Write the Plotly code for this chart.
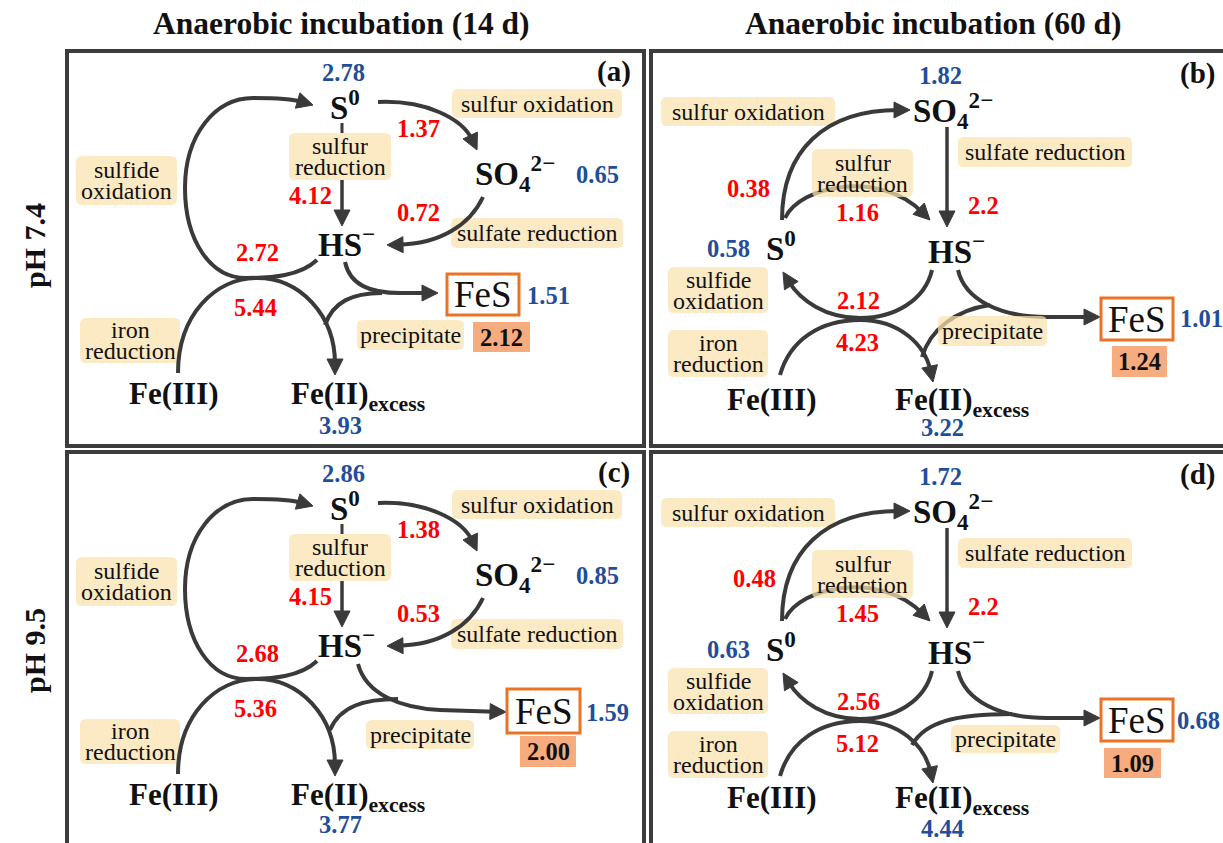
import copy
import plotly.graph_objects as go

W, H = 1223, 843

# ---------------------------------------------------------------- data
col_titles = ["Anaerobic incubation (14 d)", "Anaerobic incubation (60 d)"]
row_titles = ["pH 7.4", "pH 9.5"]
panel_tags = ["(a)", "(b)", "(c)", "(d)"]

# pool sizes (blue), panels a, b, c, d
s0_pool = ["2.78", "0.58", "2.86", "0.63"]
so4_pool = ["0.65", "1.82", "0.85", "1.72"]
fes_pool = ["1.51", "1.01", "1.59", "0.68"]
fe2_pool = ["3.93", "3.22", "3.77", "4.44"]
fes_total = ["2.12", "1.24", "2.00", "1.09"]

# transformation fluxes (red), panels a, b, c, d
sulfur_ox = ["1.37", "0.38", "1.38", "0.48"]
sulfur_red = ["4.12", "1.16", "4.15", "1.45"]
sulfate_red = ["0.72", "2.2", "0.53", "2.2"]
sulfide_ox = ["2.72", "2.12", "2.68", "2.56"]
iron_red = ["5.44", "4.23", "5.36", "5.12"]

# ---------------------------------------------------------------- style
SERIF = "Liberation Serif, Times New Roman, serif"
INK = "#3a3a3a"
RED = "#FF0000"
BLUE = "#1F4E9A"
LABEL_FILL = "rgba(251,226,175,0.72)"
ORANGE = "#EB7325"
SALMON = "#F6AC7F"
FRAME = "#3c3c3c"
TXT = "#111111"

LABEL_SIZE = 24
NUM_SIZE = 24.5

# ---------------------------------------------------------------- diagram layouts
# left column (14 d): S0 on top, SO4 to the right
LEFT = {
    "frame": (67, 51, 644, 446),
    "points": {
        "tag": (614, 71), "s0_pool": (343, 72), "so4_pool": (597, 174),
        "fes_pool": (548, 295), "fe2_pool": (340, 425),
        "sulfur_ox": (418, 128), "sulfur_red": (310, 195), "sulfate_red": (418, 212),
        "sulfide_ox": (257, 252), "iron_red": (255, 307),
        "S0": (345, 105), "SO4": (515, 173), "HS": (346, 242),
        "Fe3": (174, 393), "Fe2": (358, 396),
    },
    "rects": {"fes_box": (447, 274, 519, 315), "total_box": (473, 322, 530, 352)},
    "labels": {
        "lab_sox": ((452, 89, 622, 118), ["sulfur oxidation"], False),
        "lab_sred": ((289, 133, 391, 180), ["sulfur", "reduction"], False),
        "lab_hsox": ((76, 156, 177, 205), ["sulfide", "oxidation"], False),
        "lab_so4red": ((451, 218, 623, 248), ["sulfate reduction"], False),
        "lab_fered": ((80, 318, 180, 363), ["iron", "reduction"], False),
        "lab_prec": ((357, 320, 464, 350), ["precipitate"], False),
    },
    "curves": {
        "loop": ((317, 260), [("C", (300, 276), (272, 278), (246, 278)),
                              ("C", (210, 278), (185, 240), (185, 188)),
                              ("C", (185, 135), (215, 98), (253, 98)),
                              ("C", (276, 98), (296, 100), (313, 105))], True, 4),
        "iron": ((178, 373), [("C", (178, 315), (215, 278), (257, 278)),
                              ("C", (300, 278), (335, 315), (335, 375))], True, 4),
        "s_ox": ((378, 102), [("C", (425, 100), (462, 118), (477, 150))], True, 4),
        "so4_red": ((483, 197), [("C", (470, 225), (440, 244), (387, 245))], True, 4),
        "s_red": ((342, 180), [("L", (342, 226))], True, 3.5),
        "tick": ((342, 123), [("L", (342, 133))], False, 3),
        "to_fes": ((345, 262), [("C", (350, 285), (370, 293), (400, 293)),
                                ("L", (438, 293))], True, 4),
        "branch": ((325, 325), [("C", (333, 302), (352, 293), (382, 293))], False, 4),
    },
}

# right column (60 d): SO4 on top, S0 to the left
RIGHT = {
    "frame": (651, 51, 1240, 446),
    "points": {
        "tag": (1197, 73), "s0_pool": (728, 248), "so4_pool": (940, 75),
        "fes_pool": (1201, 318), "fe2_pool": (942, 427),
        "sulfur_ox": (748, 188), "sulfur_red": (857, 212), "sulfate_red": (983, 205),
        "sulfide_ox": (858, 300), "iron_red": (857, 342),
        "S0": (781, 246), "SO4": (953, 110), "HS": (956, 249),
        "Fe3": (772, 399), "Fe2": (962, 402),
    },
    "rects": {"fes_box": (1101, 298, 1173, 340), "total_box": (1112, 346, 1167, 377)},
    "labels": {
        "lab_sox": ((661, 97, 835, 126), ["sulfur oxidation"], False),
        "lab_sred": ((812, 149, 913, 197), ["sulfur", "reduction"], True),
        "lab_so4red": ((958, 137, 1132, 167), ["sulfate reduction"], False),
        "lab_hsox": ((668, 267, 768, 313), ["sulfide", "oxidation"], False),
        "lab_fered": ((668, 330, 768, 377), ["iron", "reduction"], False),
        "lab_prec": ((938, 316, 1047, 346), ["precipitate"], True),
    },
    "curves": {
        "s_ox": ((782, 220), [("C", (782, 150), (825, 110), (910, 110))], True, 4),
        "s_red": ((785, 218), [("C", (800, 185), (880, 170), (930, 220))], True, 4),
        "so4_red": ((947, 127), [("L", (947, 227))], True, 3.5),
        "hs_ox": ((932, 270), [("C", (925, 300), (895, 318), (860, 318)),
                               ("C", (825, 318), (800, 300), (783, 272))], True, 4),
        "iron": ((780, 375), [("C", (790, 340), (820, 320), (860, 320)),
                              ("C", (900, 320), (925, 345), (933, 382))], True, 4),
        "to_fes": ((958, 270), [("C", (965, 300), (1000, 317), (1047, 317)),
                                ("L", (1100, 317))], True, 4),
        "branch": ((922, 357), [("C", (930, 330), (955, 310), (990, 305))], False, 4),
    },
}

ROW_SHIFT = 401

# bottom-row adjustments (absolute positions)
C_OVERRIDES = {
    "points": {"fes_pool": (607, 712), "fe2_pool": (340, 824)},
    "rects": {"fes_box": (507, 689, 580, 733), "total_box": (520, 736, 576, 767)},
    "labels": {"lab_prec": ((366, 720, 474, 749), ["precipitate"], False)},
    "curves": {
        "to_fes": ((358, 664), [("C", (366, 694), (400, 708), (440, 710)),
                                ("L", (506, 712))], True, 4),
        "branch": ((330, 730), [("C", (340, 706), (365, 699), (398, 699))], False, 4),
    },
}
D_OVERRIDES = {
    "points": {"sulfur_ox": (754, 578), "fes_pool": (1198, 720),
               "Fe3": (772, 797), "Fe2": (962, 800)},
    "rects": {"total_box": (1104, 748, 1161, 778)},
    "labels": {"lab_prec": ((951, 725, 1060, 753), ["precipitate"], True)},
    "curves": {
        "branch": ((912, 745), [("C", (925, 722), (955, 714), (1012, 714))], False, 4),
    },
}


def shift_layout(tpl, dy, frame_bottom, overrides):
    out = copy.deepcopy(tpl)
    x0, y0, x1, _ = tpl["frame"]
    out["frame"] = (x0, y0 + dy, x1, frame_bottom)
    out["points"] = {k: (p[0], p[1] + dy) for k, p in tpl["points"].items()}
    out["rects"] = {k: (r[0], r[1] + dy, r[2], r[3] + dy) for k, r in tpl["rects"].items()}
    out["labels"] = {k: ((r[0], r[1] + dy, r[2], r[3] + dy), lines, ov)
                     for k, (r, lines, ov) in tpl["labels"].items()}
    curves = {}
    for k, (start, segs, head, lw) in tpl["curves"].items():
        nsegs = [(s[0],) + tuple((q[0], q[1] + dy) for q in s[1:]) for s in segs]
        curves[k] = ((start[0], start[1] + dy), nsegs, head, lw)
    out["curves"] = curves
    for group, items in overrides.items():
        out[group].update(items)
    return out


layouts = [
    LEFT,
    RIGHT,
    shift_layout(LEFT, ROW_SHIFT, 870, C_OVERRIDES),
    shift_layout(RIGHT, ROW_SHIFT, 870, D_OVERRIDES),
]

shapes = []
annotations = []


def text(x, y, s, size, color=TXT, bold=False, angle=0, box_h=None):
    a = dict(
        x=x, y=y, xref="x", yref="y", text=s, showarrow=False,
        xanchor="center", yanchor="middle", textangle=angle,
        font=dict(family=SERIF, size=size, color=color,
                  weight="bold" if bold else "normal"),
    )
    if box_h is not None:
        a["height"] = box_h
        a["valign"] = "middle"
    annotations.append(a)


def rounded_rect(r, fill, radius=6):
    x0, y0, x1, y1 = r
    k = radius
    path = (f"M {x0 + k},{y0} L {x1 - k},{y0} Q {x1},{y0} {x1},{y0 + k} "
            f"L {x1},{y1 - k} Q {x1},{y1} {x1 - k},{y1} L {x0 + k},{y1} "
            f"Q {x0},{y1} {x0},{y1 - k} L {x0},{y0 + k} Q {x0},{y0} {x0 + k},{y0} Z")
    shapes.append(dict(type="path", xref="x", yref="y", path=path,
                       fillcolor=fill, line=dict(width=0)))


def curve(start, segs, head, lw, head_len=16, head_w=8):
    segs = [list(s) for s in segs]
    last = segs[-1]
    tip = last[-1]
    prev = last[-2] if last[0] == "C" else (segs[-2][-1] if len(segs) > 1 else start)
    dx, dy = tip[0] - prev[0], tip[1] - prev[1]
    n = (dx * dx + dy * dy) ** 0.5
    ux, uy = dx / n, dy / n
    if head:
        last[-1] = (tip[0] - ux * head_len * 0.7, tip[1] - uy * head_len * 0.7)
    d = f"M {start[0]},{start[1]}"
    for s in segs:
        if s[0] == "L":
            d += f" L {s[1][0]},{s[1][1]}"
        else:
            d += f" C {s[1][0]},{s[1][1]} {s[2][0]},{s[2][1]} {s[3][0]},{s[3][1]}"
    shapes.append(dict(type="path", xref="x", yref="y", path=d,
                       line=dict(color=INK, width=lw)))
    if head:
        bx, by = tip[0] - ux * head_len, tip[1] - uy * head_len
        px, py = -uy * head_w, ux * head_w
        tri = (f"M {tip[0]},{tip[1]} L {bx + px},{by + py} "
               f"L {bx - px},{by - py} Z")
        shapes.append(dict(type="path", xref="x", yref="y", path=tri,
                           fillcolor=INK, line=dict(color=INK, width=1)))


for i, L in enumerate(layouts):
    P = L["points"]
    # frame
    x0, y0, x1, y1 = L["frame"]
    shapes.append(dict(type="rect", xref="x", yref="y", x0=x0, y0=y0, x1=x1, y1=y1,
                       line=dict(color=FRAME, width=4), fillcolor="rgba(0,0,0,0)"))
    # process labels lying under the arrows
    for key, (r, lines, over) in L["labels"].items():
        if not over:
            rounded_rect(r, LABEL_FILL)
    # arrows
    for key, (start, segs, head, lw) in L["curves"].items():
        curve(start, segs, head, lw)
    # labels laid over the arrows
    for key, (r, lines, over) in L["labels"].items():
        if over:
            rounded_rect(r, LABEL_FILL)
    for key, (r, lines, over) in L["labels"].items():
        cx = (r[0] + r[2]) / 2
        cy = (r[1] + r[3]) / 2
        if len(lines) == 1:
            text(cx, cy, lines[0], LABEL_SIZE)
        else:
            text(cx, cy - 10.5, lines[0], LABEL_SIZE, box_h=20)
            text(cx, cy + 10.5, lines[1], LABEL_SIZE, box_h=20)
    # FeS box and total FeS box
    fx0, fy0, fx1, fy1 = L["rects"]["fes_box"]
    shapes.append(dict(type="rect", xref="x", yref="y", x0=fx0, y0=fy0, x1=fx1, y1=fy1,
                       line=dict(color=ORANGE, width=3), fillcolor="white"))
    text((fx0 + fx1) / 2, (fy0 + fy1) / 2, "FeS", 37)
    tx0, ty0, tx1, ty1 = L["rects"]["total_box"]
    shapes.append(dict(type="rect", xref="x", yref="y", x0=tx0, y0=ty0, x1=tx1, y1=ty1,
                       line=dict(width=0), fillcolor=SALMON))
    text((tx0 + tx1) / 2, (ty0 + ty1) / 2, fes_total[i], NUM_SIZE, bold=True)

    # species
    text(*P["S0"], "S<sup>0</sup>", 33, bold=True)
    text(*P["SO4"], "SO<sub>4</sub><sup>2\u2212</sup>", 33, bold=True)
    text(*P["HS"], "HS<sup>\u2212</sup>", 33, bold=True)
    text(*P["Fe3"], "Fe(III)", 31, bold=True)
    text(*P["Fe2"], "Fe(II)<sub>excess</sub>", 31, bold=True)
    text(*P["tag"], panel_tags[i], 29, bold=True)

    # pools
    text(*P["s0_pool"], s0_pool[i], NUM_SIZE, BLUE, bold=True)
    text(*P["so4_pool"], so4_pool[i], NUM_SIZE, BLUE, bold=True)
    text(*P["fes_pool"], fes_pool[i], NUM_SIZE, BLUE, bold=True)
    text(*P["fe2_pool"], fe2_pool[i], NUM_SIZE, BLUE, bold=True)

    # fluxes
    text(*P["sulfur_ox"], sulfur_ox[i], NUM_SIZE, RED, bold=True)
    text(*P["sulfur_red"], sulfur_red[i], NUM_SIZE, RED, bold=True)
    text(*P["sulfate_red"], sulfate_red[i], NUM_SIZE, RED, bold=True)
    text(*P["sulfide_ox"], sulfide_ox[i], NUM_SIZE, RED, bold=True)
    text(*P["iron_red"], iron_red[i], NUM_SIZE, RED, bold=True)

# column and row headings
text(341, 23, col_titles[0], 31.5, bold=True)
text(933, 23, col_titles[1], 31.5, bold=True)
text(34, 246, row_titles[0], 30, bold=True, angle=-90)
text(34, 651, row_titles[1], 30, bold=True, angle=-90)

fig = go.Figure()
fig.add_trace(go.Scatter(x=[0], y=[0], mode="markers", marker=dict(opacity=0),
                         hoverinfo="skip", showlegend=False))
fig.update_layout(
    width=W, height=H, margin=dict(l=0, r=0, t=0, b=0),
    paper_bgcolor="white", plot_bgcolor="white",
    font=dict(family=SERIF),
    xaxis=dict(range=[0, W], visible=False, fixedrange=True),
    yaxis=dict(range=[H, 0], visible=False, fixedrange=True),
    shapes=shapes, annotations=annotations, showlegend=False,
)
fig.write_html("out.html")
